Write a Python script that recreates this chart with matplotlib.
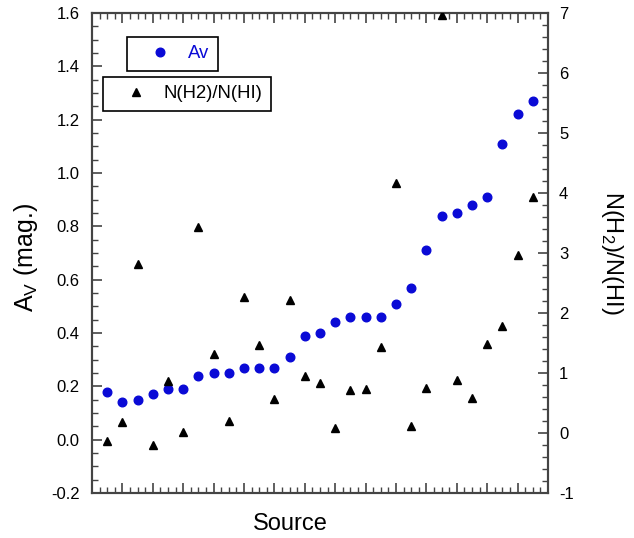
import matplotlib
matplotlib.use("Agg")
import matplotlib.pyplot as plt
from matplotlib.ticker import MultipleLocator, FormatStrFormatter
from matplotlib.lines import Line2D

plt.rcParams['font.family'] = ['Liberation Sans', 'DejaVu Sans']
plt.rcParams['axes.unicode_minus'] = False

# source index 1..29
source = list(range(1, 30))
av = [0.18, 0.14, 0.15, 0.17, 0.19, 0.19, 0.24, 0.25, 0.25, 0.27,
      0.27, 0.27, 0.31, 0.39, 0.40, 0.44, 0.46, 0.46, 0.46, 0.51,
      0.57, 0.71, 0.84, 0.85, 0.88, 0.91, 1.11, 1.22, 1.27]
h2_hi = [-0.14, 0.19, 2.82, -0.20, 0.86, 0.02, 3.44, 1.31, 0.20, 2.27,
         1.46, 0.56, 2.21, 0.95, 0.84, 0.08, 0.71, 0.73, 1.44, 4.16,
         0.12, 0.75, 6.96, 0.89, 0.59, 1.49, 1.79, 2.97, 3.93]

blue = '#0a0ad6'
spine_col = '#444444'

fig = plt.figure(figsize=(6.34, 5.38), dpi=100)
ax = fig.add_axes([92/634, 45/538, 456/634, 480/538])
ax2 = ax.twinx()

ax.plot(source, av, 'o', color=blue, markersize=6.2, zorder=3)
ax2.plot(source, h2_hi, '^', color='black', markersize=6.2, zorder=3)

ax.set_xlim(0, 30)
ax.set_ylim(-0.2, 1.6)
ax2.set_ylim(-1, 7)

ax.xaxis.set_major_locator(MultipleLocator(2))
ax.xaxis.set_minor_locator(MultipleLocator(0.5))
ax.yaxis.set_major_locator(MultipleLocator(0.2))
ax.yaxis.set_minor_locator(MultipleLocator(0.05))
ax2.yaxis.set_major_locator(MultipleLocator(1))
ax2.yaxis.set_minor_locator(MultipleLocator(0.2))
ax.yaxis.set_major_formatter(FormatStrFormatter('%.1f'))
ax2.yaxis.set_major_formatter(FormatStrFormatter('%d'))

ax.tick_params(axis='x', which='both', direction='in', top=True, bottom=True,
               labelbottom=False, color=spine_col)
ax.tick_params(axis='y', which='both', direction='in', left=True, right=False,
               color=spine_col, labelsize=12, pad=9)
ax2.tick_params(axis='y', which='both', direction='in', right=True,
                color=spine_col, labelsize=12, pad=8)
for a in (ax, ax2):
    a.tick_params(which='major', length=7, width=1.2)
    a.tick_params(which='minor', length=4, width=1.0)
    for s in a.spines.values():
        s.set_color(spine_col)
        s.set_linewidth(1.5)

# axis labels, placed by hand to match the original layout
ax.set_xlabel('Source', fontsize=17)
ax.xaxis.set_label_coords((290 - 92) / 456, (538 - 524 - 45) / 480)
ax.xaxis.label.set_va('center')
ax.set_ylabel(r'A$_\mathregular{V}$ (mag.)', fontsize=18)
ax.yaxis.set_label_coords((26 - 92) / 456, 0.49)
ax.yaxis.label.set_va('center')
ax2.set_ylabel(r'N(H$_\mathregular{2}$)/N(HI)', fontsize=17, rotation=270)
ax2.yaxis.set_label_coords((612 - 92) / 456, 0.5)
ax2.yaxis.label.set_va('center')

leg_kw = dict(loc='upper left', bbox_transform=fig.transFigure, fontsize=13.3,
              fancybox=False, edgecolor='black', framealpha=1, borderpad=0.45,
              handlelength=2.7, handletextpad=0.15, borderaxespad=0)

h1 = Line2D([], [], linestyle='none', marker='o', color=blue, markersize=6.2)
leg1 = ax2.legend([h1], ['Av'], bbox_to_anchor=(127/634, 1 - 37/538), **leg_kw)
leg1.get_frame().set_linewidth(1.2)
for t in leg1.get_texts():
    t.set_color(blue)
ax2.add_artist(leg1)

h2 = Line2D([], [], linestyle='none', marker='^', color='black', markersize=6.2)
leg2 = ax2.legend([h2], ['N(H2)/N(HI)'], bbox_to_anchor=(103/634, 1 - 77/538), **leg_kw)
leg2.get_frame().set_linewidth(1.2)

fig.savefig('out.png', dpi=100)
